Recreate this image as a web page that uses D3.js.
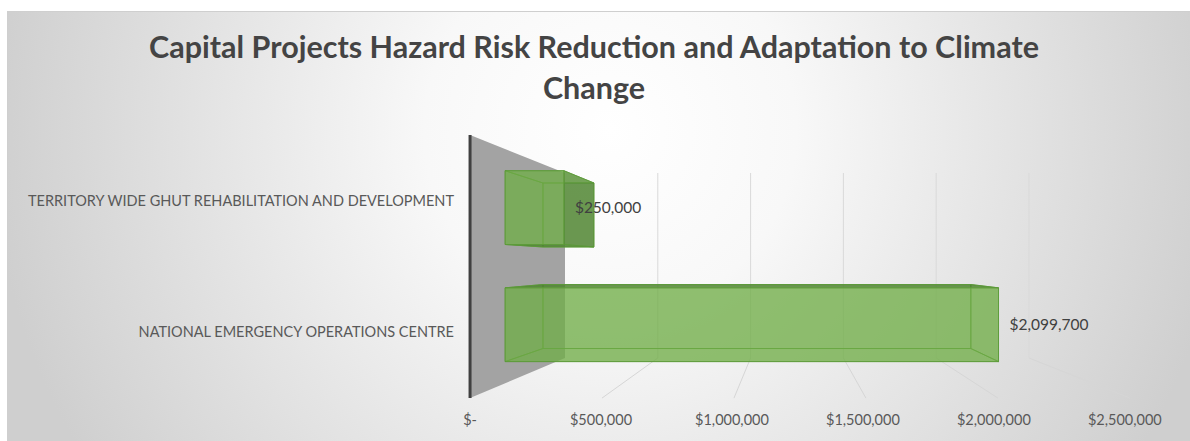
<!DOCTYPE html>
<html>
<head>
<meta charset="utf-8">
<script src="https://cdn.jsdelivr.net/npm/d3@7"></script>
<style>
  body { margin: 0; background: #fff; }
  svg { display: block; font-family: Lato, "Open Sans", sans-serif; }
</style>
</head>
<body>
<script>
// Chart data (top to bottom as drawn)
const categories = [
  'TERRITORY WIDE GHUT REHABILITATION AND DEVELOPMENT',
  'NATIONAL EMERGENCY OPERATIONS CENTRE'
];
const values = [250000, 2099700];
const tickValues = [0, 500000, 1000000, 1500000, 2000000, 2500000];
const tickLabels = ['$-', '$500,000', '$1,000,000', '$1,500,000', '$2,000,000', '$2,500,000'];
const titleLines = ['Capital Projects Hazard Risk Reduction and Adaptation to Climate', 'Change'];

const W = 1190, H = 441;

// back wall plane scales
const x = d3.scaleLinear().domain([0, 2500000]).range([565, 1029]);
const y = d3.scaleBand().domain(categories).range([173, 358])
  .paddingInner(0.37).paddingOuter(0.185);

// simple perspective: vanishing point + depth factor (1 = back wall)
const vp = [790, 263];
const depth = { wall: 1, barBack: 1.098, barFront: 1.266, front: 1.422 };
const P = (px, py, k) => [vp[0] + k * (px - vp[0]), vp[1] + k * (py - vp[1])];
const line = d3.line();

const svg = d3.select('body').append('svg')
  .attr('width', W)
  .attr('height', H);

// background gradient
const defs = svg.append('defs');
const grad = defs.append('radialGradient')
  .attr('id', 'bg')
  .attr('gradientUnits', 'userSpaceOnUse')
  .attr('cx', 610).attr('cy', 130).attr('r', 620);
grad.append('stop').attr('offset', 0).attr('stop-color', '#ffffff');
grad.append('stop').attr('offset', 0.3).attr('stop-color', '#f8f8f8');
grad.append('stop').attr('offset', 1).attr('stop-color', '#cfcfcf');

svg.append('rect')
  .attr('x', 7.5).attr('y', 11.5)
  .attr('width', W - 7).attr('height', H - 11)
  .attr('fill', 'url(#bg)')
  .attr('stroke', '#cfcfcf');

// title
svg.append('text')
  .attr('text-anchor', 'middle')
  .attr('font-size', 30.5)
  .attr('font-weight', 'bold')
  .attr('fill', '#444444')
  .selectAll('tspan')
  .data(titleLines)
  .enter()
  .append('tspan')
  .attr('x', 594)
  .attr('y', (d, i) => 58 + i * 41)
  .text(d => d);

const [y0, y1] = y.range();

// back wall gridlines
svg.append('g')
  .selectAll('line')
  .data(tickValues.slice(1))
  .enter()
  .append('line')
  .attr('x1', d => x(d)).attr('x2', d => x(d))
  .attr('y1', y0).attr('y2', y1)
  .attr('stroke', '#d9d9d9');

// floor gridlines
svg.append('g')
  .selectAll('path')
  .data(tickValues.slice(1))
  .enter()
  .append('path')
  .attr('d', d => line([P(x(d), y1, depth.wall), P(x(d), y1, depth.front)]))
  .attr('stroke', '#d6d6d6')
  .attr('fill', 'none');

// side wall
svg.append('path')
  .attr('d', line([
    P(x(0), y0, depth.front), P(x(0), y0, depth.wall),
    P(x(0), y1, depth.wall), P(x(0), y1, depth.front)
  ]) + 'Z')
  .attr('fill', '#a3a3a3');

// vertical axis line (front edge of side wall)
svg.append('path')
  .attr('d', line([P(x(0), y0, depth.front), P(x(0), y1, depth.front)]))
  .attr('stroke', '#404040')
  .attr('stroke-width', 3);

// 3D bars: faces turned away from the eye keep the front colour
const green = '#70ad47', shade = '#4a7f2c';
const bars = svg.append('g');
categories.forEach((c, i) => {
  const xa = x(0), xb = x(values[i]);
  const ya = y(c), yb = y(c) + y.bandwidth();
  const b = depth.barBack, f = depth.barFront;
  const faces = [
    { pts: [P(xa, ya, b), P(xb, ya, b), P(xb, yb, b), P(xa, yb, b)], seen: false },
    { pts: [P(xa, ya, b), P(xa, ya, f), P(xa, yb, f), P(xa, yb, b)], seen: xa > vp[0] },
    { pts: [P(xb, ya, b), P(xb, ya, f), P(xb, yb, f), P(xb, yb, b)], seen: xb < vp[0] },
    { pts: [P(xa, ya, b), P(xb, ya, b), P(xb, ya, f), P(xa, ya, f)], seen: ya > vp[1] },
    { pts: [P(xa, yb, b), P(xb, yb, b), P(xb, yb, f), P(xa, yb, f)], seen: yb < vp[1] }
  ];
  const g = bars.append('g');
  g.selectAll('path.side')
    .data(faces)
    .enter()
    .append('path')
    .attr('class', 'side')
    .attr('d', d => line(d.pts) + 'Z')
    .attr('fill', d => d.seen ? shade : green)
    .attr('fill-opacity', d => d.seen ? 0.75 : 0.35)
    .attr('stroke', '#5b9a38')
    .attr('stroke-opacity', 0.8)
    .attr('stroke-linejoin', 'round');
  g.append('path')
    .attr('d', line([P(xa, ya, f), P(xb, ya, f), P(xb, yb, f), P(xa, yb, f)]) + 'Z')
    .attr('fill', green)
    .attr('fill-opacity', 0.65)
    .attr('stroke', '#5b9a38')
    .attr('stroke-opacity', 0.8);
});

// value labels
const fmt = d3.format('$,');
svg.append('g')
  .selectAll('text')
  .data(categories)
  .enter()
  .append('text')
  .attr('x', (c, i) => P(x(values[i]), 0, depth.barFront)[0] + 11)
  .attr('y', c => P(0, y(c) + y.bandwidth() / 2, depth.barFront)[1])
  .attr('dy', '0.35em')
  .attr('font-size', 15.5)
  .attr('fill', '#404040')
  .text((c, i) => fmt(values[i]));

// category labels
svg.append('g')
  .selectAll('text')
  .data(categories)
  .enter()
  .append('text')
  .attr('x', 454)
  .attr('y', c => P(0, y(c) + y.bandwidth() / 2, depth.front)[1])
  .attr('dy', '0.35em')
  .attr('text-anchor', 'end')
  .attr('font-size', 14.5)
  .attr('fill', '#595959')
  .text(c => c);

// value axis tick labels
svg.append('g')
  .selectAll('text')
  .data(tickValues)
  .enter()
  .append('text')
  .attr('x', d => P(x(d), y1, depth.front)[0] - (d > 0 ? d / 500000 : 0))
  .attr('y', 420)
  .attr('dy', '0.35em')
  .attr('text-anchor', 'middle')
  .attr('font-size', 14.5)
  .attr('fill', '#595959')
  .text((d, i) => tickLabels[i]);
</script>
</body>
</html>
